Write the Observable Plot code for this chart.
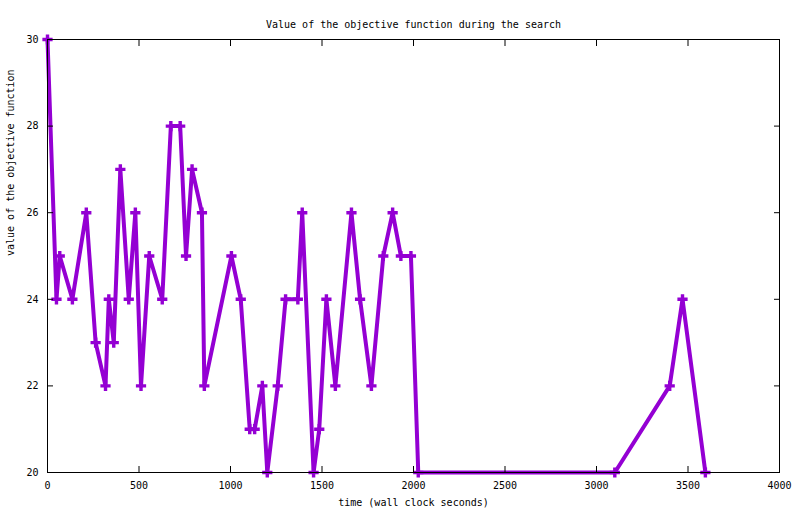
<!DOCTYPE html>
<html>
<head>
<meta charset="utf-8">
<script src="https://cdn.jsdelivr.net/npm/d3@7"></script>
<script src="https://cdn.jsdelivr.net/npm/@observablehq/plot@0.6"></script>
<style>
  html, body { margin: 0; padding: 0; background: #fff; }
</style>
</head>
<body>
<div id="chart"></div>
<script>
const titleText = "Value of the objective function during the search";
const xLabel = "time (wall clock seconds)";
const yLabel = "value of the objective function";

const times = [0, 49, 67, 136, 212, 263, 317, 335, 362, 398, 444, 480, 511, 556, 627, 674, 725, 757, 790, 844, 857,
  1005, 1056, 1105, 1132, 1174, 1201, 1258, 1301, 1368, 1392, 1454, 1485, 1524, 1573, 1661, 1708, 1770, 1835, 1886,
  1931, 1986, 2026, 3100, 3400, 3470, 3595];
const values = [30, 24, 25, 24, 26, 23, 22, 24, 23, 27, 24, 26, 22, 25, 24, 28, 28, 25, 27, 26, 22,
  25, 24, 21, 21, 22, 20, 22, 24, 24, 26, 20, 21, 24, 22, 26, 24, 22, 25, 26,
  25, 25, 20, 20, 22, 24, 20];

const xTicks = [0, 500, 1000, 1500, 2000, 2500, 3000, 3500, 4000];
const yTicks = [20, 22, 24, 26, 28, 30];
const xDomain = [0, 4000];
const yDomain = [20, 30];

const data = times.map((t, i) => ({t, v: values[i]}));
const color = "#9400d3";

const chart = Plot.plot({
  width: 800,
  height: 514,
  marginLeft: 47,
  marginRight: 21,
  marginTop: 39,
  marginBottom: 42,
  style: {fontFamily: "'DejaVu Sans Mono', monospace", fontSize: "10px", background: "#fff", color: "#000"},
  x: {domain: xDomain, nice: false},
  y: {domain: yDomain, nice: false},
  marks: [
    Plot.line(data, {x: "t", y: "v", stroke: color, strokeWidth: 4, strokeLinejoin: "round"}),
    Plot.dot(data, {x: "t", y: "v", symbol: "cross", r: 4.3, fill: color, stroke: null}),
    Plot.frame({stroke: "#000", strokeWidth: 1}),
    // tick labels
    Plot.axisX({anchor: "bottom", ticks: xTicks, tickSize: 0, label: null, tickFormat: d => String(d)}),
    Plot.axisY({anchor: "left", ticks: yTicks, tickSize: 0, label: null, tickFormat: d => String(d)}),
    // inward ticks on all four sides
    Plot.axisX({anchor: "bottom", ticks: xTicks, tickSize: 6, dy: -6, label: null, tickFormat: () => ""}),
    Plot.axisX({anchor: "top", ticks: xTicks, tickSize: 6, dy: 6, label: null, tickFormat: () => ""}),
    Plot.axisY({anchor: "left", ticks: yTicks, tickSize: 6, dx: 6, label: null, tickFormat: () => ""}),
    Plot.axisY({anchor: "right", ticks: yTicks, tickSize: 6, dx: -6, label: null, tickFormat: () => ""}),
    Plot.text([titleText], {frameAnchor: "top", dy: -19, fill: "#000"}),
    Plot.text([xLabel], {frameAnchor: "bottom", dy: 33, fill: "#000"}),
    Plot.text([yLabel], {frameAnchor: "left", dx: -37, rotate: -90, fill: "#000"})
  ]
});
document.getElementById("chart").appendChild(chart);
</script>
</body>
</html>
